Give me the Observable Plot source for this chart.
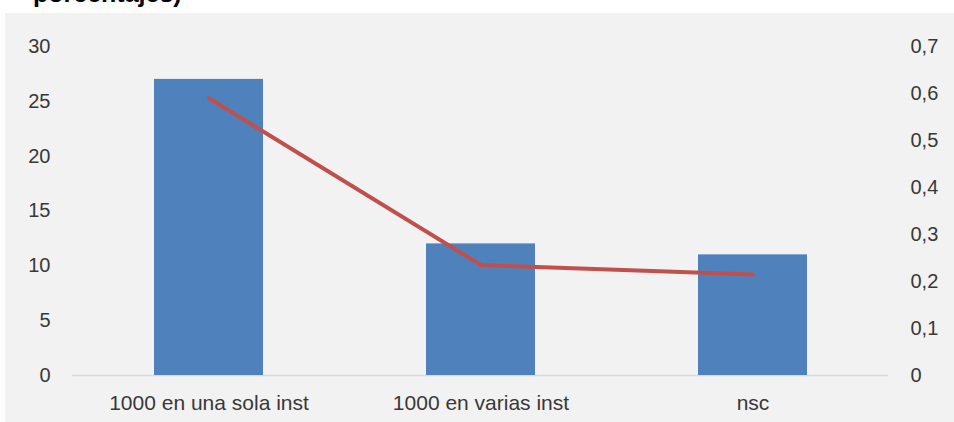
<!DOCTYPE html>
<html>
<head>
<meta charset="utf-8">
<script src="https://cdn.jsdelivr.net/npm/d3@7"></script>
<script src="https://cdn.jsdelivr.net/npm/@observablehq/plot@0.6"></script>
<style>
  html, body { margin: 0; padding: 0; background: #ffffff; }
  #wrap { position: relative; width: 954px; height: 422px; overflow: hidden; background: #ffffff; }
  #panel { position: absolute; left: 5px; top: 13px; width: 949px; height: 409px; background: #f2f2f2; }
  #title { position: absolute; left: 33px; top: -21px; margin: 0; font: bold 25px "Liberation Sans", Arial, sans-serif; color: #000; white-space: nowrap; }
  #chart { position: absolute; left: 0; top: 0; }
</style>
</head>
<body>
<div id="wrap">
  <div id="panel"></div>
  <div id="title">porcentajes)</div>
  <div id="chart"></div>
</div>
<script>
// Categories and the two series (bars on the left axis, line on the right axis)
const categories = ["1000 en una sola inst", "1000 en varias inst", "nsc"];
const barValues = [27, 12, 11];
const lineValues = [0.59, 0.235, 0.215];

// Axis ticks
const leftTicks = [0, 5, 10, 15, 20, 25, 30];
const rightTicks = [0, 0.1, 0.2, 0.3, 0.4, 0.5, 0.6, 0.7];

const leftMax = 30;
const rightMax = 0.7;
const toLeft = v => v * leftMax / rightMax;

const barData = categories.map((c, i) => ({category: c, value: barValues[i]}));
const lineData = categories.map((c, i) => ({category: c, value: lineValues[i]}));
const fmtComma = v => String(+(v).toFixed(1)).replace(".", ",");

const textColor = "#383838";

const chart = Plot.plot({
  width: 954,
  height: 422,
  marginTop: 46,
  marginBottom: 47,
  marginLeft: 72,
  marginRight: 66,
  style: {
    background: "transparent",
    fontFamily: "'Liberation Sans', Arial, sans-serif",
    fontSize: "20px",
    color: textColor
  },
  x: {domain: categories, paddingInner: 0.6, paddingOuter: 0.3, label: null},
  y: {domain: [0, leftMax], label: null},
  marks: [
    Plot.ruleY([0], {stroke: "#d9d9d9", strokeWidth: 1.5}),
    Plot.barY(barData, {x: "category", y: "value", fill: "#4f81bd"}),
    Plot.line(lineData, {
      x: "category",
      y: d => toLeft(d.value),
      stroke: "#c0504d",
      strokeWidth: 4,
      strokeLinecap: "round",
      strokeLinejoin: "round"
    }),
    Plot.axisY(leftTicks, {anchor: "left", tickSize: 0, tickPadding: 22, label: null, fill: textColor}),
    Plot.axisY(rightTicks.map(toLeft), {
      anchor: "right",
      tickSize: 0,
      tickPadding: 22,
      label: null,
      fill: textColor,
      tickFormat: v => fmtComma(v * rightMax / leftMax)
    }),
    Plot.axisX({tickSize: 0, tickPadding: 20, label: null, fill: textColor, fontSize: 21})
  ]
});

document.getElementById("chart").appendChild(chart);
</script>
</body>
</html>
